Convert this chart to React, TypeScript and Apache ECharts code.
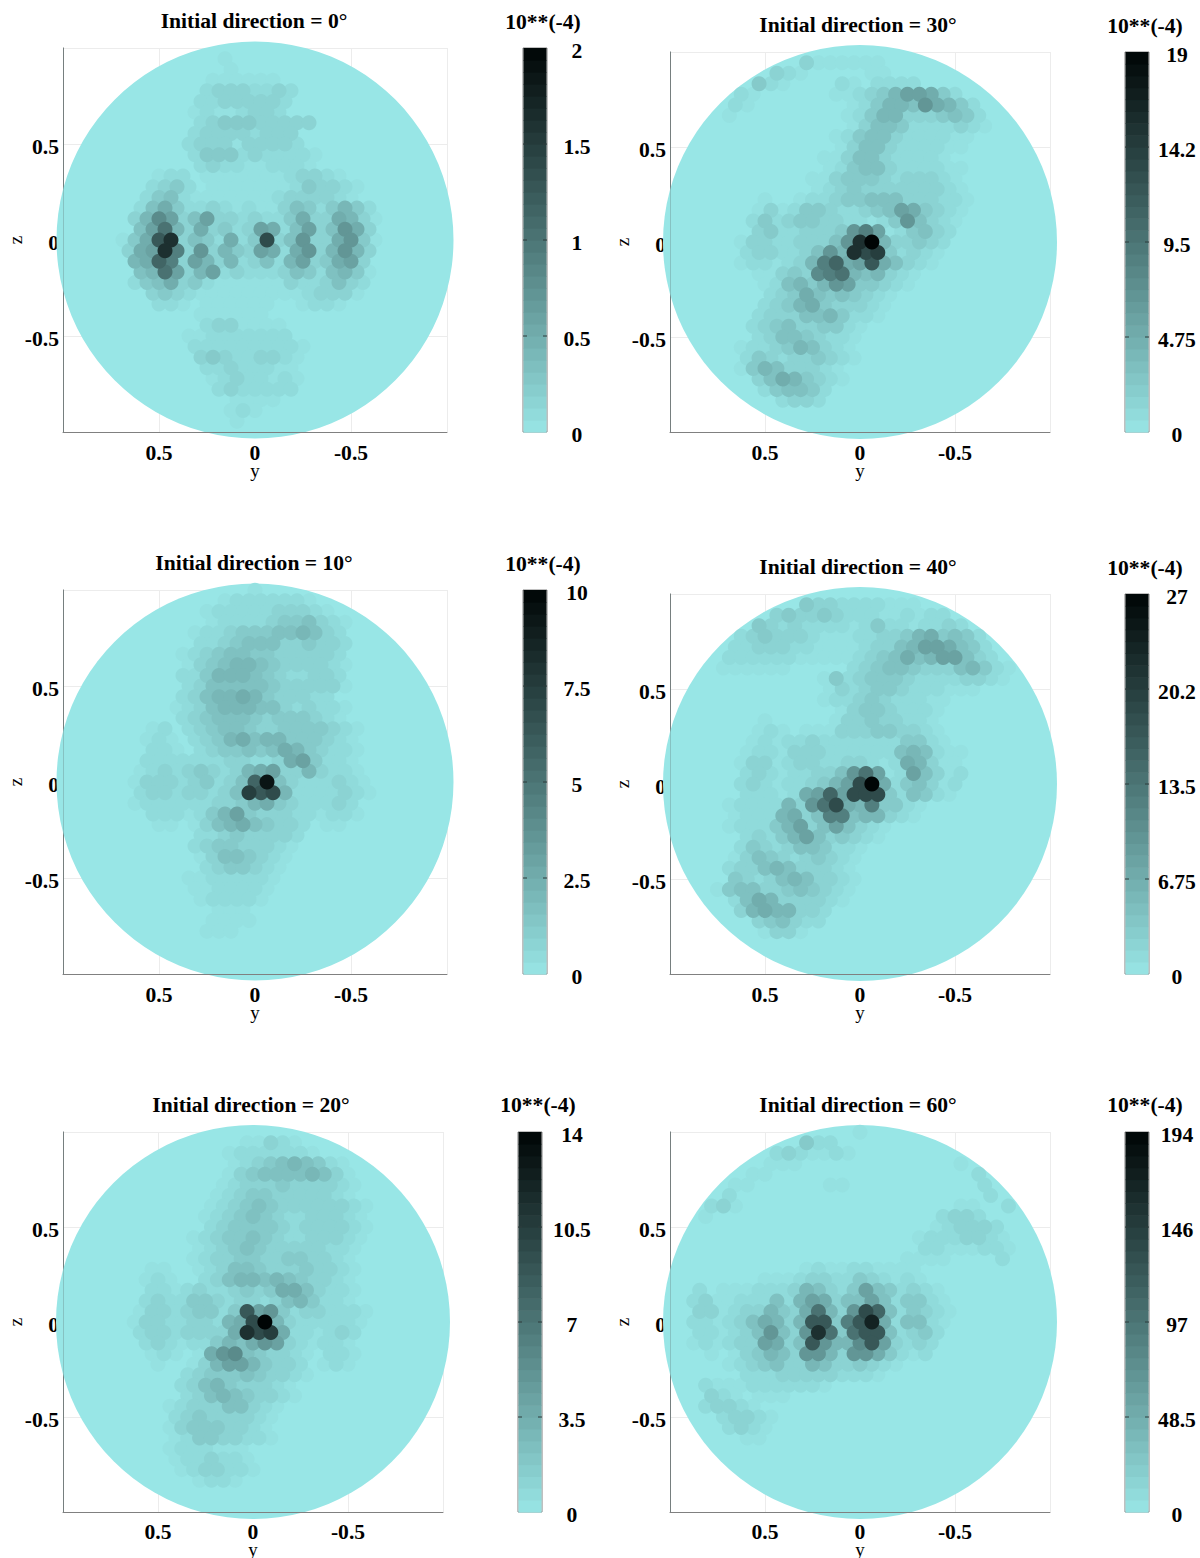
import React, { useEffect, useRef } from "react";
import * as echarts from "echarts";

// Intensity, one string per row of the detector's staggered point pattern.
// '.'=0, then a base-36 digit gives the step on a 20-step shading scale (20 = scale maximum).
const MAP_0: string[] = [
"",".............1","..............1","............111111","............23332232","...........22333332","...........12112332","...........2344433333","...........233332333","..........2333133332","...........24442322221","...........2322112221","........122.111111123321",".......2342.1111111243321",".......245211111112333321","......25742232121135424642","......36a835833232247337631","......58c63734238725835973",".....147eh3542724f359337941",".....378hb3936438727936963","......67db3863623526834783","......56c83682322235425641","......24573421111113223532",".......343211111111123331","........221.111111..1221","...........111111","............2331111","..........112222222","...........2222222221","...........343223321","............22322211","............12322121",".............2322222","..............1111","..............121","..............1",
];
const MAP_10: string[] = [
"..............1111111",".............12222221","............12222233321","............122223445321","...........1223444556532","...........2234555334332","..........12345544333332","..........13456654333321","..........22466654322332","..........23555554333331","..........2356676433322",".........123566655323221","..........23455543444321",".......12.234554334444321",".......121.23467566444321",".......221.23445457643221",".......222222233223784221","......1232343236783363221","......1333234235dj53222321","......233233235gef62222321","......1222222334674322232",".......222124684333221221","........11.1356754332.11","...........223433332","...........234433321","...........13554321","............2344321","..........11222221","...........1122221","...........122221",".............111","............1111","............111",
];
const MAP_20: string[] = [
"",
"...............11321","..............12222221","..............1234565421","..............13455556531",".............123334333321",".............123443333321","............12345433333321","............12345432233321","............23444432333321","...........123445432233321","...........12345433333221","...........12334433443321",".......11..12355433343321",".......121..2356656543321",".......221232234347753221",".......232244323323564221","......133234424e8942332221","......1332233267fk63222221","......233233337hfg7221232",".......232122465798321221",".......121.179a543321.221","........1..1368864332.121","..........23444543321","..........2356433321","..........2356543321",".........1233355321",".........234333321",".........134443321",".........124433221",".........1222111",".........1223221","..........1233221","...........1221",
];
const MAP_30: string[] = [
"",".........243111111","........2321.....11","......2421....21.2222",".....121......11234688742","....121........12466597642",".....1.........124663334542","...............135542222321","..............124553222211","..............13553222211",".............11355322221",".............124553222211","............1134443233321","............1234333333321","........1..122344555333221",".......131244322345874321",".......242344332212495321",".......342233349b8124532","......1332233359hk633432","......233223596hfg42321","......1221236bd78e75321",".......11343abc656321","........1256469844321","........23475454321","........23467433321",".......23335564221",".......2345334421",".......235543221","......1223465321","......2432334321","......146533321",".......35764321","........245542",".........2332",
];
const MAP_40: string[] = [
"",".........25433222211126",".......12343343222112122","......2432322221242212232",".....1234333211122334674542","....122333221111233568875421","...11222222111112345756885321","....111111.....23455433356421",".............1423444322223321",".............1323443222111",".............12234322211","..............134432221","........1.....133433221",".......121.111333443321",".......12122322222224421","......1221333222222565211","......1331233223321276311","......2321223359c81285312","......2321223468fk7245312","......2221278d8fff425421",".....12222639cf76b4421",".....12226735bb566321",".....12224683585321","......232468534321","......24323554221",".....13543234321",".....23356533321",".....43235653321","....145533454321",".....2576333321","......36766332",".......345322","........1331",
];
const MAP_60: string[] = [
"................1131","..........2422","........12321121........32","........111.............12",".......11.................2",".....11......11...........21","....32.....................2","...231..................11..2","...1...................2332","......................123332",".....................12223321",".....................22111221","....................1111....2","...........1211221111","........11123322432121","..2.1112223653248542321","..2311222526873558524421","..3312336437c639fd524321","..2212357636ee4bei725521","..2212359539hc4cee52342","..1212338735e966ae83232","...1.13465399639974212",".....123453365334321","......222333332221","...21112222221","...321.111","...23321","....23321",".....2321","......11",
];

const PANEL_TITLES = ["Initial direction = 0°", "Initial direction = 30°", "Initial direction = 10°", "Initial direction = 40°", "Initial direction = 20°", "Initial direction = 60°"];
const PANEL_MAPS = [MAP_0, MAP_30, MAP_10, MAP_40, MAP_20, MAP_60];
const SCALE_MAX = [2, 19, 10, 27, 14, 194];
const SCALE_LABELS = [
  ["0", "0.5", "1", "1.5", "2"],
  ["0", "4.75", "9.5", "14.2", "19"],
  ["0", "2.5", "5", "7.5", "10"],
  ["0", "6.75", "13.5", "20.2", "27"],
  ["0", "3.5", "7", "10.5", "14"],
  ["0", "48.5", "97", "146", "194"],
];
const SCALE_TITLE = "10**(-4)";

const LAYOUT = [
  { l: 63, t: 48, s: 384, d: 397, cb: 523, tx: 254, ty: 22, bx: 543, by: 23, lab: 577, nameGap: 30, tickGap: 12 },
  { l: 670, t: 52, s: 380, d: 394, cb: 1125, tx: 858, ty: 26, bx: 1145, by: 27, lab: 1177, nameGap: 30, tickGap: 12 },
  { l: 63, t: 590, s: 384, d: 397, cb: 523, tx: 254, ty: 564, bx: 543, by: 565, lab: 577, nameGap: 30, tickGap: 12 },
  { l: 670, t: 594, s: 380, d: 394, cb: 1125, tx: 858, ty: 568, bx: 1145, by: 569, lab: 1177, nameGap: 30, tickGap: 12 },
  { l: 63, t: 1132, s: 380, d: 394, cb: 518, tx: 251, ty: 1106, bx: 538, by: 1106, lab: 572, nameGap: 29, tickGap: 11 },
  { l: 670, t: 1132, s: 380, d: 394, cb: 1125, tx: 858, ty: 1106, bx: 1145, by: 1106, lab: 1177, nameGap: 29, tickGap: 11 },
];

const SERIF = "'Liberation Serif', 'Times New Roman', serif";
const LOW = [152, 230, 230];
const HIGH = [0, 5, 5];
const BANDS = 32;
const SHADE_POWER = 1.3;
const shade = (f: number) => {
  const k = Math.max(0, Math.min(1, f));
  const c = LOW.map((v, i) => Math.round(v + (HIGH[i] - v) * k));
  return `rgb(${c[0]},${c[1]},${c[2]})`;
};

const COL_STEP = 0.0625;
const ROW_STEP = 0.0555;
const DISK_LIMIT = 1.0;
function toPoints(rows: string[], max: number) {
  const pts: number[][] = [];
  rows.forEach((row, r) => {
    for (let c = 0; c < row.length; c++) {
      const ch = row[c];
      if (ch === ".") continue;
      const y = (16 - c) * COL_STEP - (r % 2 ? COL_STEP / 2 : 0);
      const z = (18 - r) * ROW_STEP;
      if (Math.hypot(y, z) > DISK_LIMIT) continue;
      pts.push([y, z, Math.pow(parseInt(ch, 36) / 20, SHADE_POWER) * max]);
    }
  });
  return pts.sort((a, b) => a[2] - b[2]);
}

function buildOption() {
  const title: any[] = [], grid: any[] = [], xAxis: any[] = [], yAxis: any[] = [], series: any[] = [];
  const boldText = { fontFamily: SERIF, fontWeight: "bold" as const, fontSize: 21.6, color: "#000" };
  const nameText = { fontFamily: SERIF, fontSize: 19, color: "#000", lineHeight: 16 };
  LAYOUT.forEach((p, i) => {
    const max = SCALE_MAX[i];
    const labels = SCALE_LABELS[i];
    title.push({ text: PANEL_TITLES[i], left: p.tx, top: p.ty - 12, textAlign: "center", textStyle: { ...boldText }, padding: 0 });
    title.push({ text: SCALE_TITLE, left: p.bx, top: p.by - 12, textAlign: "center", textStyle: { ...boldText }, padding: 0 });

    const g = grid.length;
    grid.push({ left: p.l, top: p.t, width: p.s, height: p.s, outerBoundsMode: "none" });
    grid.push({ left: p.cb, top: p.t, width: 24, height: p.s, show: true, borderColor: "#808080", borderWidth: 1, outerBoundsMode: "none" });

    const hideEnds = (v: number) => (Math.abs(v) === 1 ? "" : String(v));
    const lineStyle = { color: "#808080", width: 1 };
    const xMain = xAxis.length;
    xAxis.push({
      type: "value", gridIndex: g, min: -1, max: 1, interval: 0.5, inverse: true, z: 0,
      name: "y", nameLocation: "middle", nameGap: p.nameGap, nameMoveOverlap: false, nameTextStyle: nameText,
      axisLine: { show: false }, axisTick: { show: false },
      axisLabel: { ...boldText, lineHeight: 18, margin: p.tickGap, formatter: hideEnds, showMinLabel: true, showMaxLabel: true },
      splitLine: { show: true, lineStyle: { color: "#ececec", width: 1 } },
    });
    xAxis.push({ type: "value", gridIndex: g, min: -1, max: 1, interval: 0.5, position: "bottom", z: 9, axisLine: { show: true, onZero: false, lineStyle }, axisTick: { show: false }, axisLabel: { show: false }, splitLine: { show: false } });
    const yMain = yAxis.length;
    yAxis.push({
      type: "value", gridIndex: g, min: -1, max: 1, interval: 0.5, z: 0,
      name: "z", nameLocation: "middle", nameGap: 40, nameMoveOverlap: false, nameTextStyle: nameText,
      axisLine: { show: true, onZero: false, lineStyle }, axisTick: { show: false },
      axisLabel: { ...boldText, margin: 4, verticalAlign: "top", lineHeight: 5, formatter: hideEnds },
      splitLine: { show: true, lineStyle: { color: "#ececec", width: 1 } },
    });
    yAxis.push({ type: "value", gridIndex: g, min: -1, max: 1, interval: 0.5, position: "left", z: 9, axisLine: { show: true, onZero: false, lineStyle: { color: "rgba(100,125,125,0.35)", width: 1 } }, axisTick: { show: false }, axisLabel: { show: false }, splitLine: { show: false } });

    const xBar = xAxis.length;
    xAxis.push({ type: "value", gridIndex: g + 1, min: 0, max: 1, show: false });
    const yBar = yAxis.length;
    const step = max / 4;
    yAxis.push({
      type: "value", gridIndex: g + 1, min: 0, max, interval: step, position: "right", z: 6,
      axisLine: { show: false }, axisTick: { show: false },
      axisLabel: { ...boldText, margin: p.lab - p.cb - 24, align: "center", verticalAlign: "top", lineHeight: 5, formatter: (v: number) => labels[Math.round(v / step)], showMinLabel: true, showMaxLabel: true },
      splitLine: { show: false },
    });

    series.push({
      type: "scatter", name: "disk", xAxisIndex: xMain, yAxisIndex: yMain, silent: true, z: 3, clip: false,
      symbol: "circle", symbolSize: p.d, data: [[0, 0]], itemStyle: { color: shade(0), opacity: 1 },
    });
    series.push({
      type: "scatter", name: PANEL_TITLES[i], xAxisIndex: xMain, yAxisIndex: yMain, silent: true, z: 4, clip: false,
      symbol: "circle", symbolSize: 15, data: toPoints(PANEL_MAPS[i], max),
      itemStyle: { opacity: 1, color: (d: any) => shade(d.value[2] / max) },
    });
    const bandData = Array.from({ length: BANDS }, (_, b) => [(b * max) / BANDS, ((b + 1) * max) / BANDS]);
    series.push({
      type: "custom", xAxisIndex: xBar, yAxisIndex: yBar, silent: true, z: 4, clip: false, coordinateSystem: "cartesian2d",
      encode: { y: [0, 1] }, data: bandData,
      renderItem: (_: any, api: any) => {
        const a = api.coord([0, api.value(0)]);
        const b = api.coord([1, api.value(1)]);
        return {
          type: "rect",
          shape: { x: a[0] + 0.5, y: b[1], width: b[0] - a[0] - 1, height: a[1] - b[1] + 0.6 },
          style: { fill: shade((api.value(0) + api.value(1)) / 2 / max), stroke: null },
        };
      },
    });
    series.push({
      type: "custom", xAxisIndex: xBar, yAxisIndex: yBar, silent: true, z: 5, clip: false, coordinateSystem: "cartesian2d",
      encode: { y: 0 }, data: [1, 2, 3].map((k) => [k * step]),
      renderItem: (_: any, api: any) => {
        const a = api.coord([0, api.value(0)]);
        const b = api.coord([1, api.value(0)]);
        const style = { stroke: "#2f3d3d", lineWidth: 1, fill: null };
        return {
          type: "group",
          children: [
            { type: "line", shape: { x1: a[0], y1: a[1], x2: a[0] + 4, y2: a[1] }, style },
            { type: "line", shape: { x1: b[0] - 4, y1: b[1], x2: b[0], y2: b[1] }, style },
          ],
        };
      },
    });
  });
  return { animation: false, backgroundColor: "#fff", title, grid, xAxis, yAxis, series, tooltip: { show: false } };
}

export default function App() {
  const ref = useRef<HTMLDivElement>(null);
  useEffect(() => {
    const chart = echarts.init(ref.current!, undefined, { renderer: "svg" });
    chart.setOption(buildOption() as any);
    return () => chart.dispose();
  }, []);
  return <div ref={ref} style={{ position: "absolute", left: 0, top: 0, width: 1200, height: 1558 }} />;
}
